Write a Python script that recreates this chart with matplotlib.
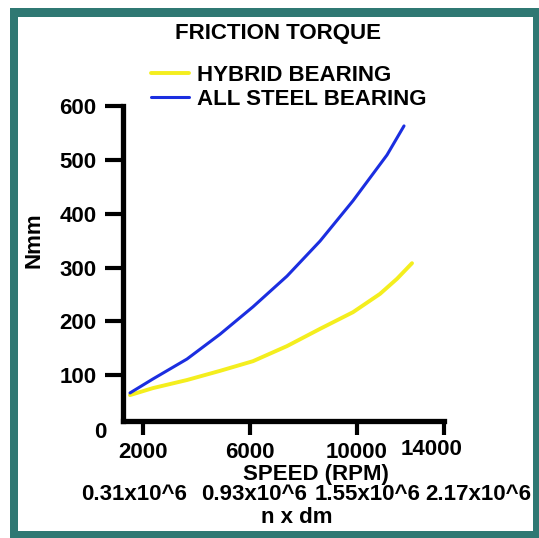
import matplotlib
matplotlib.use("Agg")
import matplotlib.pyplot as plt
from matplotlib.patches import Rectangle
from matplotlib.transforms import ScaledTranslation

plt.rcParams['font.family'] = ['Liberation Sans', 'DejaVu Sans']
plt.rcParams['font.weight'] = 'bold'

# data
hybrid_rpm = [1514, 2373, 3645, 4878, 6112, 7383, 8617, 9850, 10860, 11495, 12056]
hybrid_nmm = [63, 76, 91, 108, 126, 154, 186, 217, 251, 279, 308]
steel_rpm = [1514, 2373, 3645, 4878, 6112, 7383, 8617, 9850, 11121, 11757]
steel_nmm = [67, 93, 130, 176, 227, 284, 349, 424, 509, 563]

y_ticks = [0, 100, 200, 300, 400, 500, 600]
x_tick_labels = ["2000", "6000", "10000", "14000"]
x_tick_pos = [2000, 6000, 10000, 13250]   # last tick sits at the end of the axis
ndm_labels = ["0.31x10^6", "0.93x10^6", "1.55x10^6", "2.17x10^6"]
ndm_pos = [1663, 6149, 10411, 13250]

W, H = 539, 538
fig = plt.figure(figsize=(W / 100, H / 100), dpi=100)
fig.patch.set_facecolor('white')

# teal frame
fig.patches.append(Rectangle((10 / W, 0), (W - 10) / W, 1 - 8 / H,
                             transform=fig.transFigure, facecolor='#2f7873',
                             edgecolor='none', zorder=-3))
fig.patches.append(Rectangle((18 / W, 1 - 531 / H), (533 - 18) / W, (531 - 17) / H,
                             transform=fig.transFigure, facecolor='white',
                             edgecolor='none', zorder=-2))

ax = fig.add_axes([123 / W, 1 - 429 / H, 321 / W, 323 / H])
ax.set_facecolor('none')

ax.plot(hybrid_rpm, hybrid_nmm, color='#f4ee1e', lw=2.8, label='HYBRID BEARING',
        solid_capstyle='round', solid_joinstyle='round')
ax.plot(steel_rpm, steel_nmm, color='#1b2ee0', lw=2.2, label='ALL STEEL BEARING',
        solid_capstyle='round', solid_joinstyle='round')

ax.set_xlim(1252, 13252)
ax.set_ylim(0, 600)

for s in ['top', 'right']:
    ax.spines[s].set_visible(False)
ax.spines['bottom'].set_position(('data', 15))
ax.spines['left'].set_bounds(15, 600)
ax.spines['left'].set_linewidth(3.8)
ax.spines['bottom'].set_linewidth(3.8)

ax.set_yticks(y_ticks)
ax.set_yticklabels([str(v) for v in y_ticks])
ax.tick_params(axis='y', length=13, width=3, pad=6, labelsize=16)
ax.yaxis.get_major_ticks()[0].tick1line.set_visible(False)
lab0 = ax.get_yticklabels()[0]
lab0.set_transform(lab0.get_transform() + ScaledTranslation(10 / 100, -1 / 100, fig.dpi_scale_trans))

ax.set_xticks(x_tick_pos)
ax.set_xticklabels(x_tick_labels)
ax.tick_params(axis='x', length=10, width=3, pad=5, labelsize=16)
lab14 = ax.get_xticklabels()[-1]
lab14.set_transform(lab14.get_transform() + ScaledTranslation(-12 / 100, 3 / 100, fig.dpi_scale_trans))

ax.set_xlabel('SPEED (RPM)', fontsize=16, fontweight='bold')
ax.xaxis.set_label_coords(0.601, -0.108)
ax.set_ylabel('Nmm', fontsize=16, fontweight='bold')
ax.yaxis.set_label_coords(-0.243, 0.585)

sec = ax.secondary_xaxis(-0.170)
sec.spines['bottom'].set_visible(False)
sec.set_xticks(ndm_pos)
sec.set_xticklabels(ndm_labels)
sec.tick_params(axis='x', length=0, pad=0, labelsize=16)
lab_last = sec.get_xticklabels()[-1]
lab_last.set_transform(lab_last.get_transform() + ScaledTranslation(34 / 100, 0, fig.dpi_scale_trans))
sec.set_xlabel('n x dm', fontsize=16, fontweight='bold')
sec.xaxis.set_label_coords(0.542, -0.241, transform=ax.transAxes)

fig.suptitle('FRICTION TORQUE', x=278 / W, y=1 - 33 / H, va='center',
             fontsize=16, fontweight='bold')

ax.legend(loc='upper left', bbox_to_anchor=(151 / W, 1 - 65 / H),
          bbox_transform=fig.transFigure, frameon=False, fontsize=16,
          handlelength=1.7, handletextpad=0.35, labelspacing=0.12,
          borderpad=0, borderaxespad=0)

fig.savefig('out.png', dpi=100)
